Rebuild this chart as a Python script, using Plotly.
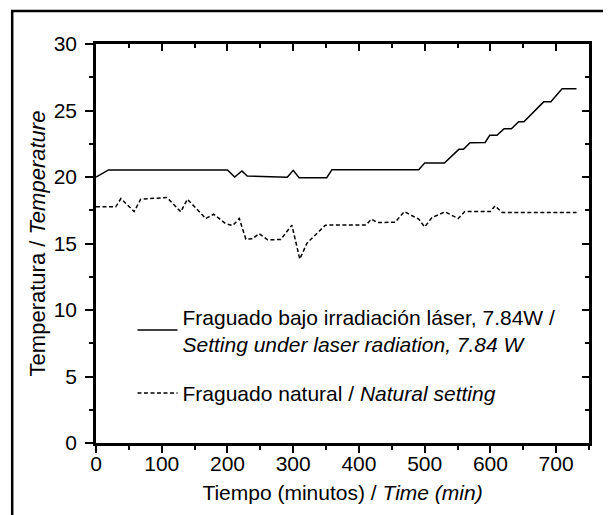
import plotly.graph_objects as go

# Laser setting series (time in minutes, temperature)
laser_t = [0, 19, 200, 211, 222, 230, 291, 300, 309, 351, 359, 491, 500, 530, 552, 559,
           569, 592, 599, 610, 621, 632, 643, 651, 681, 692, 709, 731]
laser_T = [20.0, 20.53, 20.53, 20.0, 20.45, 20.07, 19.98, 20.5, 19.95, 19.95, 20.55, 20.55,
           21.05, 21.05, 22.08, 22.08, 22.58, 22.6, 23.13, 23.13, 23.63, 23.63, 24.15, 24.15,
           25.65, 25.65, 26.63, 26.63]

# Natural setting series
nat_t = [0, 30, 38, 58, 68, 108, 129, 139, 167, 179, 197, 208, 218, 228, 238, 248, 261, 281,
         298, 310, 321, 349, 411, 419, 428, 455, 469, 491, 500, 511, 531, 551, 561, 600, 607,
         618, 731]
nat_T = [17.76, 17.76, 18.38, 17.4, 18.33, 18.46, 17.38, 18.33, 16.88, 17.2, 16.5, 16.35,
         16.88, 15.33, 15.35, 15.75, 15.28, 15.3, 16.38, 13.83, 15.03, 16.38, 16.4, 16.83,
         16.58, 16.6, 17.4, 16.83, 16.25, 16.95, 17.38, 16.88, 17.4, 17.4, 17.83, 17.33, 17.33]

x_ticks = [0, 100, 200, 300, 400, 500, 600, 700]
y_ticks = [0, 5, 10, 15, 20, 25, 30]

laser_name = "Fraguado bajo irradiación láser, 7.84W /<br><i>Setting under laser radiation, 7.84 W</i>"
nat_name = "Fraguado natural / <i>Natural setting</i>"

FONT = "Liberation Sans, Arial, sans-serif"

fig = go.Figure()
fig.add_trace(go.Scatter(x=laser_t, y=laser_T, mode="lines", name=laser_name, legendgroup="a",
                         line=dict(color="black", width=1.5)))
fig.add_trace(go.Scatter(x=nat_t, y=nat_T, mode="lines", name=nat_name, legendgroup="b",
                         line=dict(color="black", width=1.5, dash="4px,2.5px")))
# invisible trace to anchor the mirrored (top/right) axes
fig.add_trace(go.Scatter(x=laser_t, y=laser_T, mode="lines", xaxis="x2", yaxis="y2",
                         line=dict(width=0, color="rgba(0,0,0,0)"), showlegend=False,
                         hoverinfo="skip"))

axis_common = dict(showgrid=False, zeroline=False, showline=True, linecolor="black",
                   linewidth=2.5, tickcolor="black", tickwidth=2, automargin=False,
                   tickfont=dict(family=FONT, size=21, color="black"))

fig.update_layout(
    width=611, height=515,
    margin=dict(l=87.5, r=29.5, t=35.5, b=79.5),
    paper_bgcolor="white", plot_bgcolor="white",
    font=dict(family=FONT, size=21, color="black"),
    xaxis=dict(range=[0, 750], tickvals=x_ticks, ticks="outside", ticklen=7, ticklabelstandoff=-7,
               minor=dict(dtick=50, tick0=0, ticks="outside", ticklen=4, tickwidth=2, tickcolor="black"),
               title=dict(text="Tiempo (minutos) / <i>Time (min)</i>", standoff=12,
                          font=dict(family=FONT, size=21)),
               **axis_common),
    yaxis=dict(range=[0, 30], tickvals=y_ticks, ticks="outside", ticklen=8, ticklabelstandoff=4,
               minor=dict(dtick=2.5, tick0=0, ticks="outside", ticklen=4, tickwidth=2, tickcolor="black"),
               title=dict(text="Temperatura / <i>Temperature</i>", standoff=2,
                          font=dict(family=FONT, size=22)),
               **axis_common),
    xaxis2=dict(range=[0, 750], overlaying="x", side="top", anchor="y", tickvals=x_ticks,
                ticks="inside", ticklen=7, showticklabels=False,
                minor=dict(dtick=50, tick0=0, ticks="inside", ticklen=4, tickwidth=2, tickcolor="black"),
                **axis_common),
    yaxis2=dict(range=[0, 30], overlaying="y", side="right", anchor="x", tickvals=y_ticks,
                ticks="inside", ticklen=7, showticklabels=False,
                minor=dict(dtick=2.5, tick0=0, ticks="inside", ticklen=4, tickwidth=2, tickcolor="black"),
                **axis_common),
    legend=dict(x=0.074, y=0.368, xanchor="left", yanchor="top", bgcolor="rgba(0,0,0,0)",
                font=dict(family=FONT, size=21, color="black"), tracegroupgap=19,
                itemwidth=40),
    showlegend=True,
    shapes=[dict(type="rect", xref="paper", yref="paper", x0=-0.17, x1=1.2, y0=-0.3, y1=1.083,
                 line=dict(color="black", width=2.5), fillcolor="rgba(0,0,0,0)", layer="below")],
)

fig.write_html("out.html")
